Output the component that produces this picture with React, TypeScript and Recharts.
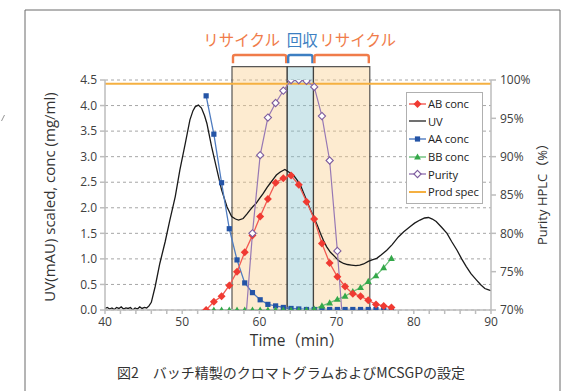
import { ComposedChart, Line, XAxis, YAxis, CartesianGrid, ReferenceArea, Legend } from "recharts";

// UV trace (time in min, scaled signal)
const uvTime = [
  40.0, 40.3, 40.6, 40.9, 41.2, 41.5, 41.8, 42.1, 42.4, 42.7, 43.0, 43.3, 43.6, 43.9, 44.2, 44.5, 44.8, 45.1, 45.4, 45.7,
  46.0, 46.5, 47.1, 47.8, 48.4, 49.1, 49.7, 50.4, 51.0, 51.4, 51.7, 52.1, 52.5, 52.9, 53.2, 53.8, 54.5, 55.1, 55.8, 56.4,
  56.9, 57.3, 57.9, 58.4, 58.8, 59.2, 59.6, 60.0, 60.5, 61.0, 61.4, 61.8, 62.2, 62.7, 63.3, 63.8, 64.4, 64.8, 65.3, 65.7,
  66.1, 66.5, 67.0, 67.5, 67.9, 68.3, 68.7, 69.2, 69.8, 70.3, 70.9, 71.4, 71.9, 72.5, 73.0, 73.5, 74.1, 74.6, 75.2, 75.8,
  76.5, 77.2, 78.0, 78.7, 79.5, 80.1, 80.8, 81.4, 81.9, 82.4, 82.9, 83.6, 84.3, 84.9, 85.6, 86.2, 86.8, 87.4, 88.1, 88.7,
  89.2, 89.6, 90.0,
];
const uvSignal = [
  0.03, 0.05, 0.02, 0.04, 0.01, 0.05, 0.03, 0.06, 0.02, 0.04, 0.03, 0.05, 0.0, 0.04, 0.02, 0.06, 0.03, 0.05, 0.04, 0.08,
  0.15, 0.46, 0.91, 1.34, 1.76, 2.22, 2.74, 3.26, 3.72, 3.9, 3.98, 4.01, 3.95, 3.8, 3.65, 3.2, 2.74, 2.35, 2.02, 1.83,
  1.78, 1.76, 1.79, 1.88, 1.96, 2.03, 2.09, 2.18, 2.28, 2.4, 2.48, 2.56, 2.64, 2.7, 2.75, 2.7, 2.64, 2.56, 2.45, 2.3,
  2.15, 2.0, 1.83, 1.66, 1.5, 1.36, 1.24, 1.13, 1.04, 0.96, 0.91, 0.89, 0.88, 0.87, 0.88, 0.9, 0.95, 0.98, 1.01, 1.08,
  1.17, 1.28, 1.43, 1.53, 1.63, 1.7, 1.76, 1.8, 1.81, 1.78, 1.73, 1.62, 1.5, 1.34, 1.17, 1.0, 0.85, 0.71, 0.59, 0.49,
  0.42, 0.4, 0.38,
];

// fraction samples, mg/ml
const sampleTime = [
  53.1, 54.1, 55.1, 56.1, 57.1, 58.1, 59.1, 60.1, 61.1, 62.1, 63.1, 64.1, 65.1, 66.1, 67.1, 68.1, 69.1, 70.1, 71.1, 72.1,
  73.1, 74.1, 75.1, 76.1, 77.1,
];
const abConc = [
  0.0, 0.16, 0.27, 0.48, 0.75, 1.13, 1.46, 1.83, 2.17, 2.49, 2.58, 2.63, 2.45, 2.12, 1.78, 1.3, 0.92, 0.65, 0.46, 0.32,
  0.27, 0.19, 0.11, 0.08, 0.05,
];
const aaConc = [
  4.19, 3.44, 2.49, 1.59, 0.98, 0.53, 0.34, 0.2, 0.11, 0.08, 0.05, 0.03, 0.02, 0.01, 0.01, 0.01, 0.01, 0.01, 0.01, 0.01,
  0.01, 0.01, 0.01, 0.01, 0.01,
];
const bbConc = [
  0, 0, 0, 0, 0, 0, 0, 0, 0, 0, 0, 0, 0, 0, 0.02, 0.08, 0.14, 0.21, 0.27, 0.36,
  0.44, 0.56, 0.67, 0.83, 1.01,
];

// purity HPLC, %
const purityTime = [58.1, 59.1, 60.1, 61.1, 62.1, 63.1, 64.1, 65.1, 66.1, 67.1, 68.1, 69.1, 70.1, 71.1];
const purity = [67, 80.0, 90.2, 95.1, 97.0, 98.6, 100, 100, 99.9, 99.1, 95.3, 89.5, 77.7, 64];

const specTime = [40, 90];
const prodSpec = [99.5, 99.5];

const xTicks = [40, 42, 44, 46, 48, 50, 52, 54, 56, 58, 60, 62, 64, 66, 68, 70, 72, 74, 76, 78, 80, 82, 84, 86, 88, 90];
const concTicks = [0, 0.5, 1, 1.5, 2, 2.5, 3, 3.5, 4, 4.5];
const purityTicks = [70, 75, 80, 85, 90, 95, 100];

// MCSGP zones
const zoneFrom = [56.45, 63.6, 67.0];
const zoneTo = [63.6, 67.0, 74.3];
const zoneLabels = ["リサイクル", "回収", "リサイクル"];

const zip = (xs: number[], ys: number[]) => xs.map((t, i) => ({ t, v: ys[i] }));

const FONT = "'Open Sans', 'Noto Sans CJK JP', sans-serif";
const JP = "'Noto Sans CJK JP', sans-serif";

const C = {
  ab: "#f03a32",
  abLine: "#f25a52",
  uv: "#1a1a1a",
  aa: "#2454a6",
  aaLine: "#4f7cc0",
  bb: "#34a84a",
  bbLine: "#6cc07a",
  pur: "#7d5c9e",
  purLine: "#9778b4",
  spec: "#f5b041",
  recycle: "#f07c4a",
  collect: "#3d7fc2",
};

const zoneFill = ["#facd89", "#87c3cd", "#facd89"];
const bracketColor = [C.recycle, C.collect, C.recycle];
const labelShift = [-18, 2, 16];

const marker = (kind: string, cx: number, cy: number, color: string, key?: string | number) => {
  if (kind === "diamond")
    return <path key={key} d={`M${cx},${cy - 4}L${cx + 4},${cy}L${cx},${cy + 4}L${cx - 4},${cy}Z`} fill={color} />;
  if (kind === "square")
    return <rect key={key} x={cx - 2.6} y={cy - 2.6} width={5.2} height={5.2} fill={color} />;
  if (kind === "triangle")
    return <path key={key} d={`M${cx},${cy - 3.6}L${cx + 3.4},${cy + 2.6}L${cx - 3.4},${cy + 2.6}Z`} fill={color} />;
  if (kind === "open")
    return (
      <path key={key} d={`M${cx},${cy - 3.6}L${cx + 3.6},${cy}L${cx},${cy + 3.6}L${cx - 3.6},${cy}Z`} fill="#fff" stroke={color} strokeWidth={1.1} />
    );
  return null;
};

const dotOf = (kind: string, color: string, min?: number) => (p: any) => {
  if (p.cx == null || p.cy == null || (min != null && p.payload.v < min)) return <g key={p.index} />;
  return marker(kind, p.cx, p.cy, color, p.index);
};

const legendItems = [
  { name: "AB conc", line: C.abLine, kind: "diamond", color: C.ab },
  { name: "UV", line: "#333", kind: "none", color: "#333" },
  { name: "AA conc", line: C.aaLine, kind: "square", color: C.aa },
  { name: "BB conc", line: C.bbLine, kind: "triangle", color: C.bb },
  { name: "Purity", line: C.purLine, kind: "open", color: C.pur },
  { name: "Prod spec", line: C.spec, kind: "none", color: C.spec },
];

const LegendBox = () => (
  <div style={{ border: "1px solid #b0b0b0", background: "#fff", padding: "2px 0 2px 1px", width: 77, boxSizing: "border-box", overflow: "hidden" }}>
    {legendItems.map((it) => (
      <div key={it.name} style={{ display: "flex", alignItems: "center", height: 17.6, fontFamily: FONT, fontSize: 11.2, color: "#222" }}>
        <svg width={19} height={10} style={{ marginRight: 1, flex: "none" }}>
          <line x1={1} y1={5} x2={18} y2={5} stroke={it.line} strokeWidth={it.name === "Prod spec" ? 2 : 1.4} />
          {marker(it.kind, 9.5, 5, it.color)}
        </svg>
        <span style={{ whiteSpace: "nowrap", letterSpacing: -0.1 }}>{it.name}</span>
      </div>
    ))}
  </div>
);

const Bracket = (i: number) => (p: any) => {
  const { x, y, width, height } = p;
  const l = x + 1;
  const r = x + width - 1;
  const b = y + height;
  return (
    <g>
      <path d={`M${l},${b}L${l},${y + 2}Q${l},${y} ${l + 2},${y}L${r - 2},${y}Q${r},${y} ${r},${y + 2}L${r},${b}`} fill="none" stroke={bracketColor[i]} strokeWidth={2.4} />
      <text x={x + width / 2 + labelShift[i]} y={y - 9} textAnchor="middle" fontFamily={JP} fontSize={15.5} fill={bracketColor[i]}>
        {zoneLabels[i]}
      </text>
    </g>
  );
};

export default function App() {
  const tick = { fontSize: 12, fill: "#404040", fontFamily: FONT };
  return (
    <div style={{ position: "absolute", left: 0, top: 0, width: 578, height: 391, background: "#fff" }}>
      <ComposedChart width={578} height={391} margin={{ top: 80, right: 40, bottom: 51, left: 65 }}>
        <CartesianGrid vertical={false} stroke="#a6a6a6" strokeDasharray="3 3" yAxisId="conc" />
        <XAxis
          type="number"
          dataKey="t"
          domain={[40, 90]}
          ticks={xTicks}
          interval={0}
          tickFormatter={(t: number) => (t % 10 === 0 ? String(t) : "")}
          tick={tick}
          tickSize={4}
          tickMargin={3}
          stroke="#bdbdbd"
          strokeWidth={1.5}
          height={30}
          allowDataOverflow
        />
        <YAxis
          yAxisId="conc"
          domain={[0, 4.5]}
          ticks={concTicks}
          interval={0}
          tickFormatter={(v: number) => v.toFixed(1)}
          tick={tick}
          tickSize={5}
          tickMargin={3}
          stroke="#bdbdbd"
          strokeWidth={1.5}
          width={40}
          allowDataOverflow
        />
        <YAxis
          yAxisId="pct"
          orientation="right"
          domain={[70, 100]}
          ticks={purityTicks}
          interval={0}
          tickFormatter={(v: number) => `${v}%`}
          tick={tick}
          tickSize={5}
          tickMargin={4}
          stroke="#bdbdbd"
          strokeWidth={1.5}
          width={47}
          allowDataOverflow
        />
        {zoneFrom.map((f, i) => (
          <ReferenceArea
            key={`z${i}`}
            yAxisId="conc"
            x1={f}
            x2={zoneTo[i]}
            y1={0}
            y2={4.76}
            ifOverflow="visible"
            fill={zoneFill[i]}
            fillOpacity={0.4}
            stroke="#3a3a3a"
            strokeWidth={1.2}
            strokeOpacity={0.85}
          />
        ))}
        {zoneFrom.map((f, i) => (
          <ReferenceArea
            key={`b${i}`}
            yAxisId="conc"
            x1={f}
            x2={zoneTo[i]}
            y1={4.83}
            y2={4.99}
            ifOverflow="visible"
            shape={Bracket(i)}
          />
        ))}
        <Line
          yAxisId="pct"
          data={zip(specTime, prodSpec)}
          dataKey="v"
          name="Prod spec"
          stroke={C.spec}
          strokeWidth={2}
          dot={false}
          isAnimationActive={false}
        />
        <Line
          yAxisId="conc"
          data={zip(uvTime, uvSignal)}
          dataKey="v"
          name="UV"
          type="linear"
          stroke={C.uv}
          strokeWidth={1.3}
          dot={false}
          isAnimationActive={false}
        />
        <Line
          yAxisId="conc"
          data={zip(sampleTime, aaConc)}
          dataKey="v"
          name="AA conc"
          stroke={C.aaLine}
          strokeWidth={1.3}
          dot={dotOf("square", C.aa)}
          isAnimationActive={false}
        />
        <Line
          yAxisId="conc"
          data={zip(sampleTime, bbConc)}
          dataKey="v"
          name="BB conc"
          stroke={C.bbLine}
          strokeWidth={1.3}
          dot={dotOf("triangle", C.bb)}
          isAnimationActive={false}
        />
        <Line
          yAxisId="conc"
          data={zip(sampleTime, abConc)}
          dataKey="v"
          name="AB conc"
          stroke={C.abLine}
          strokeWidth={1.3}
          dot={dotOf("diamond", C.ab)}
          isAnimationActive={false}
        />
        <Line
          yAxisId="pct"
          data={zip(purityTime, purity)}
          dataKey="v"
          name="Purity"
          stroke={C.purLine}
          strokeWidth={1.2}
          dot={dotOf("open", C.pur, 70)}
          isAnimationActive={false}
        />
        <Legend
          layout="vertical"
          align="center"
          verticalAlign="middle"
          content={() => <LegendBox />}
          wrapperStyle={{ left: 406, top: 92, width: 77, height: "auto" }}
        />
      </ComposedChart>
      <svg width={578} height={391} style={{ position: "absolute", left: 0, top: 0, pointerEvents: "none" }}>
        <path d="M25,391L25,10L560,10L560,391" fill="none" stroke="#6b6b6b" strokeWidth={1} />
        <line x1={1.5} y1={121} x2={4.5} y2={115} stroke="#777" strokeWidth={0.8} />
        <text x={0} y={0} transform="translate(55,197) rotate(-90)" textAnchor="middle" fontFamily={FONT} fontSize={15} fill="#333">
          UV(mAU) scaled, conc (mg/ml)
        </text>
        <text x={0} y={0} transform="translate(547,191) rotate(-90)" textAnchor="middle" fontFamily={FONT} fontSize={13} fill="#333">
          Purity HPLC（%）
        </text>
        <text x={297} y={346} textAnchor="middle" fontFamily={FONT} fontSize={15.5} fill="#333">
          Time（min）
        </text>
        <text x={291} y={378} textAnchor="middle" fontFamily={JP} fontSize={14} fill="#333">
          図2　バッチ精製のクロマトグラムおよびMCSGPの設定
        </text>
      </svg>
    </div>
  );
}
